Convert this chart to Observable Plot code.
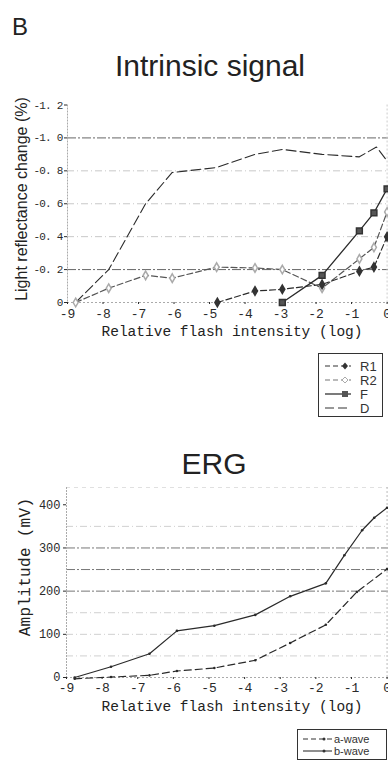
<!DOCTYPE html>
<html><head><meta charset="utf-8">
<script src="https://cdn.jsdelivr.net/npm/d3@7"></script>
<script src="https://cdn.jsdelivr.net/npm/@observablehq/plot@0.6"></script>
<style>
body{margin:0;background:#fff;}
#root{position:relative;width:388px;height:763px;overflow:hidden;font-family:"Liberation Sans",Arial,sans-serif;color:#222;}
.abs{position:absolute;white-space:nowrap;line-height:1;}
.plot{position:absolute;left:0;}
.rot{position:absolute;white-space:nowrap;line-height:1;transform-origin:center;transform:translate(-50%,-50%) rotate(-90deg);}
.mono{font-family:"Liberation Mono",monospace;}
</style></head><body><div id="root"></div>
<script>
// ---------- Intrinsic signal data ----------
const xTicks = [-9, -8, -7, -6, -5, -4, -3, -2, -1, 0];
const yTicksTop = [0, -0.2, -0.4, -0.6, -0.8, -1.0, -1.2];
const gridTopMain = [-1.0, -0.2];
const gridTopLight = [-0.4, -0.6, -0.8];
const intensityD = [-8.77, -7.84, -6.8, -6.05, -4.8, -3.72, -2.95, -1.83, -0.78, -0.3, 0];
const valuesD = [0, -0.2, -0.6, -0.79, -0.82, -0.9, -0.93, -0.9, -0.885, -0.945, -0.86];
const intensityR2 = [-8.77, -7.84, -6.8, -6.05, -4.8, -3.72, -2.95, -1.83, -0.78, -0.37, 0];
const valuesR2 = [0, -0.087, -0.165, -0.148, -0.215, -0.21, -0.2, -0.087, -0.265, -0.335, -0.55];
const intensityR1 = [-4.78, -3.72, -2.95, -1.83, -0.78, -0.37, 0];
const valuesR1 = [0, -0.07, -0.08, -0.11, -0.19, -0.215, -0.40];
const intensityF = [-2.95, -1.83, -0.78, -0.37, 0];
const valuesF = [0, -0.165, -0.435, -0.545, -0.69];

// ---------- ERG data ----------
const yTicksErg = [0, 100, 200, 300, 400];
const gridErgMain = [200, 250, 300];
const gridErgLight = [50, 100, 150, 350];
const intensityB = [-8.77, -7.75, -6.67, -5.9, -4.85, -3.7, -2.72, -1.72, -1.2, -0.7, -0.36, 0];
const valuesB = [0, 25, 55, 108, 120, 145, 188, 218, 283, 341, 370, 393];
const intensityA = [-8.77, -7.75, -6.67, -5.9, -4.85, -3.7, -2.72, -1.72, -0.85, 0];
const valuesA = [-3, 1, 5, 15, 22, 40, 80, 122, 198, 251];

const zip = (xs, ys) => xs.map((x, i) => ({x, y: ys[i]}));
const root = document.getElementById("root");
function add(html) { root.insertAdjacentHTML("beforeend", html); }

add(`<div class="abs" style="left:12px;top:15px;font-size:24px;">B</div>`);
add(`<div class="abs" style="left:210px;top:51px;font-size:30px;transform:translateX(-50%);">Intrinsic signal</div>`);
add(`<div class="abs" style="left:214px;top:449px;font-size:30px;transform:translateX(-50%);">ERG</div>`);

const ink = "#2a2a2a";
const topPlot = Plot.plot({
  width: 388, height: 260, marginTop: 14.5, marginBottom: 48, marginLeft: 67, marginRight: 0,
  style: {fontFamily: "Liberation Mono, monospace", color: ink, background: "transparent"},
  x: {domain: [-9, 0.04]},
  y: {domain: [0, -1.2]},
  marks: [
    Plot.ruleY(gridTopLight, {stroke: "#c8c8c8", strokeDasharray: "7,3,1,3"}),
    Plot.ruleY(gridTopMain, {stroke: "#666", strokeDasharray: "9,2,2,2"}),
    Plot.ruleY([0], {stroke: "#aaa", strokeDasharray: "2,2"}),
    Plot.ruleX([-9], {stroke: "#aaa", strokeDasharray: "2,1"}),
    Plot.ruleX([0], {stroke: "#ccc", strokeDasharray: "2,2"}),
    Plot.axisX({ticks: xTicks, tickFormat: d => String(d), tickSize: 2, tickPadding: 4, fontSize: 13, label: null}),
    Plot.axisY({ticks: yTicksTop, tickFormat: d => d === 0 ? "0" : d.toFixed(1).replace(".", ". "), tickSize: 3, tickPadding: 2, fontSize: 11, label: null}),
    Plot.line(zip(intensityD, valuesD), {x: "x", y: "y", stroke: ink, strokeWidth: 1.1, strokeDasharray: "10,4"}),
    Plot.line(zip(intensityR2, valuesR2), {x: "x", y: "y", stroke: "#555", strokeWidth: 1.2, strokeDasharray: "6,3"}),
    Plot.line(zip(intensityR1, valuesR1), {x: "x", y: "y", stroke: ink, strokeWidth: 1.2, strokeDasharray: "6,3"}),
    Plot.line(zip(intensityF, valuesF), {x: "x", y: "y", stroke: ink, strokeWidth: 1.3}),
    Plot.dot(zip(intensityR2, valuesR2), {x: "x", y: "y", symbol: "diamond", r: 2.6, fill: "#fff", stroke: "#aaa"}),
    Plot.dot(zip(intensityR1, valuesR1), {x: "x", y: "y", symbol: "diamond", r: 2.6, fill: "#333", stroke: "#333"}),
    Plot.dot(zip(intensityF, valuesF), {x: "x", y: "y", symbol: "square", r: 3.3, fill: "#555", stroke: "#333"})
  ]
});
topPlot.classList.add("plot");
topPlot.style.top = "90px";
root.appendChild(topPlot);
d3.select(topPlot).selectAll('g[aria-label="y-axis tick label"] text').style("letter-spacing", "-0.8px");

add(`<div class="rot" style="left:22px;top:199px;font-size:16px;">Light reflectance change (%)</div>`);
add(`<div class="abs mono" style="left:232px;top:325px;font-size:14.5px;transform:translateX(-50%);">Relative flash intensity (log)</div>`);

// top legend
add(`<div class="abs" style="left:318px;top:353px;width:63px;height:62px;border:1px solid #333;">
<svg width="63" height="62" style="display:block;font-family:'Liberation Sans',Arial,sans-serif;font-size:13px;fill:#333">
 <line x1="6" y1="12" x2="32" y2="12" stroke="#333" stroke-width="1.2" stroke-dasharray="5,3"/>
 <path d="M26,8.5 L29,12 L26,15.5 L23,12 Z" fill="#333"/>
 <text x="41" y="16.5">R1</text>
 <line x1="6" y1="26" x2="32" y2="26" stroke="#777" stroke-width="1.2" stroke-dasharray="5,3"/>
 <path d="M26,23 L29,26 L26,29 L23,26 Z" fill="#fff" stroke="#aaa"/>
 <text x="41" y="30.5">R2</text>
 <line x1="6" y1="40" x2="32" y2="40" stroke="#333" stroke-width="1.3"/>
 <rect x="23" y="37" width="6" height="6" fill="#555"/>
 <text x="41" y="44.5">F</text>
 <line x1="6" y1="54" x2="32" y2="54" stroke="#333" stroke-width="1.1" stroke-dasharray="9,4"/>
 <text x="41" y="58.5">D</text>
</svg></div>`);

const ergPlot = Plot.plot({
  width: 388, height: 250, marginTop: 17, marginBottom: 43, marginLeft: 66, marginRight: 0,
  style: {fontFamily: "Liberation Mono, monospace", color: ink, background: "transparent"},
  x: {domain: [-9, 0.04]},
  y: {domain: [0, 440]},
  marks: [
    Plot.ruleY(gridErgLight, {stroke: "#d0d0d0", strokeDasharray: "7,3,1,3"}),
    Plot.ruleY(gridErgMain, {stroke: "#777", strokeDasharray: "9,2,2,2"}),
    Plot.ruleY([440], {stroke: "#e0e0e0", strokeDasharray: "4,4"}),
    Plot.ruleY([0], {stroke: "#aaa", strokeDasharray: "2,2"}),
    Plot.ruleX([-9], {stroke: "#aaa", strokeDasharray: "2,1"}),
    Plot.ruleX([0], {stroke: "#bbb", strokeDasharray: "2,2"}),
    Plot.axisX({ticks: xTicks, tickFormat: d => String(d), tickSize: 2, tickPadding: 3, fontSize: 13, label: null}),
    Plot.axisY({ticks: yTicksErg, tickSize: 3, tickPadding: 3, fontSize: 12, label: null}),
    Plot.line(zip(intensityA, valuesA), {x: "x", y: "y", stroke: ink, strokeWidth: 1.2, strokeDasharray: "7,4"}),
    Plot.line(zip(intensityB, valuesB), {x: "x", y: "y", stroke: ink, strokeWidth: 1.2}),
    Plot.dot(zip(intensityA, valuesA), {x: "x", y: "y", r: 1.3, fill: ink}),
    Plot.dot(zip(intensityB, valuesB), {x: "x", y: "y", r: 1.3, fill: ink})
  ]
});
ergPlot.classList.add("plot");
ergPlot.style.top = "470px";
root.appendChild(ergPlot);

add(`<div class="rot mono" style="left:26px;top:567px;font-size:16px;letter-spacing:0.3px;">Amplitude (mV)</div>`);
add(`<div class="abs mono" style="left:232px;top:700px;font-size:14.5px;transform:translateX(-50%);">Relative flash intensity (log)</div>`);

add(`<div class="abs" style="left:297px;top:729px;width:88px;height:29px;border:1px solid #333;">
<svg width="88" height="29" style="display:block;font-family:'Liberation Sans',Arial,sans-serif;font-size:11px;fill:#333">
 <line x1="5" y1="9" x2="34" y2="9" stroke="#333" stroke-width="1.1" stroke-dasharray="5,3"/>
 <circle cx="26" cy="9" r="1.5" fill="#333"/>
 <text x="36" y="13">a-wave</text>
 <line x1="5" y1="21" x2="34" y2="21" stroke="#333" stroke-width="1.1"/>
 <circle cx="26" cy="21" r="1.5" fill="#333"/>
 <text x="36" y="25">b-wave</text>
</svg></div>`);
</script>
</body></html>
